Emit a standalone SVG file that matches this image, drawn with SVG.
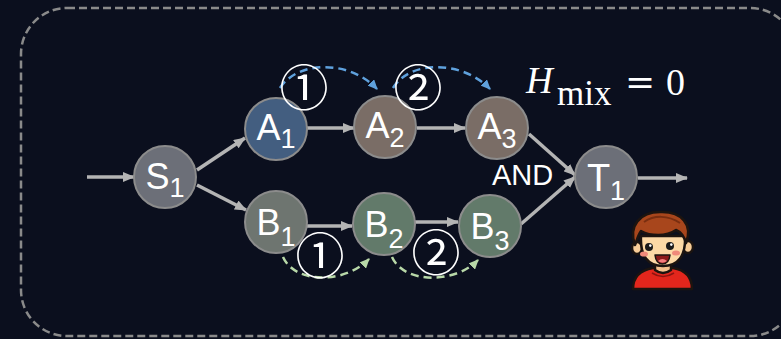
<svg xmlns="http://www.w3.org/2000/svg" width="781" height="339" viewBox="0 0 781 339">
  <defs>
    <style>
      .node circle { stroke: #8c8c8c; stroke-width: 2; }
      .lbl { font-family: "Liberation Sans", Arial, sans-serif; font-size: 36px; fill: #ffffff; text-anchor: middle; }
      .sub { font-size: 27px; }
      .edge { fill: none; stroke: #b4b4b4; stroke-width: 3.5; marker-end: url(#head); }
      .hop { fill: none; stroke-width: 2.5; stroke-dasharray: 8 5; }
      .hop.a { stroke: #5fa1dd; marker-end: url(#headBlue); }
      .hop.b { stroke: #b8d8a8; marker-end: url(#headGreen); }
      .step { font-family: "Noto Sans CJK SC", "DejaVu Sans", sans-serif; font-size: 49px; fill: #ffffff; text-anchor: middle; }
      .and { font-family: "Liberation Sans", Arial, sans-serif; font-size: 29px; fill: #ffffff; }
      .math { font-family: "Liberation Serif", "Times New Roman", serif; font-size: 37px; fill: #ffffff; }
    </style>
    <marker id="head" viewBox="0 0 12 10" markerUnits="userSpaceOnUse" markerWidth="12" markerHeight="10" refX="11" refY="5" orient="auto">
      <path d="M0,0 L12,5 L0,10 Z" fill="#b4b4b4"/>
    </marker>
    <marker id="headBlue" viewBox="0 0 10 9" markerUnits="userSpaceOnUse" markerWidth="10" markerHeight="9" refX="9" refY="4.5" orient="auto">
      <path d="M0,0 L10,4.5 L0,9 Z" fill="#5fa1dd"/>
    </marker>
    <marker id="headGreen" viewBox="0 0 10 9" markerUnits="userSpaceOnUse" markerWidth="10" markerHeight="9" refX="9" refY="4.5" orient="auto">
      <path d="M0,0 L10,4.5 L0,9 Z" fill="#b8d8a8"/>
    </marker>
  </defs>

  <!-- background and dashed frame -->
  <rect x="0" y="0" width="781" height="339" fill="#0b0f1e"/>
  <rect x="21" y="8" width="775" height="328" rx="46" ry="46" fill="none" stroke="#8a8a8a" stroke-width="2.5" stroke-dasharray="8 4"/>

  <!-- connectors -->
  <g id="connectors">
    <path class="edge" d="M87,177 L134,177"/>
    <path class="edge" d="M197,170 L245,138"/>
    <path class="edge" d="M197,185 L246,210"/>
    <path class="edge" d="M307,128 L354,128"/>
    <path class="edge" d="M417,128 L465,128"/>
    <path class="edge" d="M307,226 L352,226"/>
    <path class="edge" d="M415,222 L458,222"/>
    <path class="edge" d="M529,134 L575,175"/>
    <path class="edge" d="M521,224 L575,177"/>
    <path class="edge" d="M638,178 L687,178"/>
    <!-- dashed hop arcs -->
    <path class="hop a" d="M280,88 C298,60 350,60 377,89"/>
    <path class="hop a" d="M393,88 C410,60 462,60 490,89"/>
    <path class="hop b" d="M283,257 C295,284 345,284 369,259"/>
    <path class="hop b" d="M392,257 C404,284 455,284 478,260"/>
  </g>

  <!-- nodes -->
  <g id="S1" class="node">
    <circle cx="165" cy="177" r="31" fill="#6c6f78"/>
    <text class="lbl" x="165" y="189">S<tspan class="sub" dy="8">1</tspan></text>
  </g>
  <g id="A1" class="node">
    <circle cx="276" cy="129" r="31" fill="#435e80"/>
    <text class="lbl" x="276" y="140">A<tspan class="sub" dy="8">1</tspan></text>
  </g>
  <g id="A2" class="node">
    <circle cx="385" cy="127" r="31" fill="#7a6d66"/>
    <text class="lbl" x="385" y="138">A<tspan class="sub" dy="9">2</tspan></text>
  </g>
  <g id="A3" class="node">
    <circle cx="497" cy="128" r="31" fill="#7a6d66"/>
    <text class="lbl" x="497" y="139">A<tspan class="sub" dy="9">3</tspan></text>
  </g>
  <g id="B1" class="node">
    <circle cx="276" cy="222" r="31" fill="#6e7570"/>
    <text class="lbl" x="276" y="235">B<tspan class="sub" dy="11">1</tspan></text>
  </g>
  <g id="B2" class="node">
    <circle cx="384" cy="224" r="31" fill="#627a6a"/>
    <text class="lbl" x="384" y="237">B<tspan class="sub" dy="11">2</tspan></text>
  </g>
  <g id="B3" class="node">
    <circle cx="490" cy="226" r="31" fill="#627a6a"/>
    <text class="lbl" x="490" y="239">B<tspan class="sub" dy="11">3</tspan></text>
  </g>
  <g id="T1" class="node">
    <circle cx="606" cy="177" r="31" fill="#6c6f78"/>
    <text class="lbl" x="606" y="191" style="font-size:38px">T<tspan class="sub" dy="9">1</tspan></text>
  </g>

  <!-- step markers -->
  <g id="steps">
    <text class="step" x="304" y="106">①</text>
    <text class="step" x="418" y="106">②</text>
    <text class="step" x="320" y="274">①</text>
    <text class="step" x="436" y="271">②</text>
  </g>

  <text class="and" x="492" y="185">AND</text>

  <!-- mixing entropy formula -->
  <g id="formula">
    <text class="math" x="526" y="93" style="font-style:italic">H</text>
    <text class="math" x="557" y="105" style="font-size:35px">mix</text>
    <text class="math" x="625" y="94" style="font-family:'DejaVu Serif', serif; font-size:36px">=</text>
    <text class="math" x="666" y="95" style="font-size:38px">0</text>
  </g>

  <!-- person avatar -->
  <g id="person" stroke="#1c1410" stroke-width="2.5" stroke-linejoin="round">
    <path d="M633,289 C633,277 641,270 653,268 L673,268 C685,270 692,277 692,289 Z" fill="#e3261c"/>
    <path d="M652,273 Q663,280 674,273" fill="none" stroke="#8e1410" stroke-width="1.5"/>
    <path d="M655,261 L655,270 Q663,276 671,270 L671,261 Z" fill="#f4c28e"/>
    <ellipse cx="637" cy="248" rx="5" ry="6" fill="#f8cd98"/>
    <ellipse cx="688" cy="247" rx="5" ry="6" fill="#f8cd98"/>
    <path d="M641,236 C640,256 648,266 663,266 C678,266 686,256 685,236 Z" fill="#fcd9a6"/>
    <path d="M635,245 C628,226 640,212 660,212 C682,211 693,225 686,243 C684,236 681,232 676,230 C666,237 650,236 641,231 C638,235 637,240 635,245 Z" fill="#a8461c"/>
    <path d="M644,222 C654,215 668,215 680,223" fill="none" stroke="#7a2e10" stroke-width="2"/>
    <g stroke="none">
      <circle cx="649" cy="247" r="4" fill="#1a1a1a"/>
      <circle cx="670" cy="246" r="4" fill="#1a1a1a"/>
      <circle cx="650.3" cy="245.6" r="1.3" fill="#ffffff"/>
      <circle cx="671.3" cy="244.6" r="1.3" fill="#ffffff"/>
      <ellipse cx="644" cy="254" rx="4" ry="2.6" fill="#f08a7a"/>
      <ellipse cx="676" cy="253" rx="4" ry="2.6" fill="#f08a7a"/>
    </g>
    <path d="M655,255 L670,255 Q669,264 662.5,264 Q656,264 655,255 Z" fill="#8b1a1a" stroke-width="1.5"/>
    <path d="M658,261 Q662.5,257 667,261 Q662.5,264.5 658,261 Z" fill="#f47c7c" stroke="none"/>
  </g>
</svg>
